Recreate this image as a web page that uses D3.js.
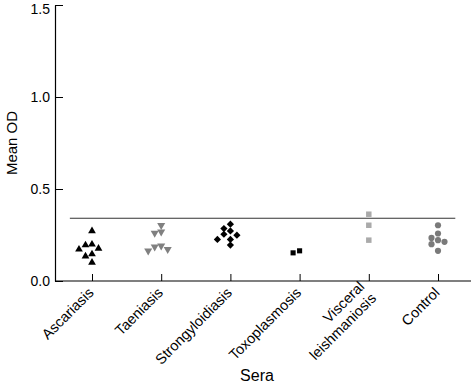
<!DOCTYPE html>
<html>
<head>
<meta charset="utf-8">
<script src="https://cdn.jsdelivr.net/npm/d3@7"></script>
<style>
  body { margin: 0; background: #fff; }
  svg text { font-family: "Liberation Sans", Arial, sans-serif; fill: #000; }
</style>
</head>
<body>
<div id="wrapper"></div>
<script>
// categories and their OD values
const categories = ["Ascariasis", "Taeniasis", "Strongyloidiasis", "Toxoplasmosis", "Visceral leishmaniosis", "Control"];
const ascariasis = [0.272, 0.199, 0.195, 0.177, 0.172, 0.146, 0.135, 0.101];
const taeniasis = [0.303, 0.267, 0.26, 0.191, 0.186, 0.172, 0.164];
const strongyloidiasis = [0.309, 0.285, 0.272, 0.254, 0.249, 0.226, 0.226, 0.195];
const toxoplasmosis = [0.164, 0.153];
const visceral = [0.363, 0.303, 0.222];
const control = [0.303, 0.258, 0.234, 0.222, 0.213, 0.2, 0.164];
const cutoff = 0.341;
const yTicks = [0, 0.5, 1.0, 1.5];

const series = [ascariasis, taeniasis, strongyloidiasis, toxoplasmosis, visceral, control];
const symbols = [
  {type: d3.symbolTriangle, color: "#000", size: 26, rot: 0},
  {type: d3.symbolTriangle, color: "#808080", size: 28, rot: 180},
  {type: d3.symbolSquare, color: "#000", size: 26, rot: 45},
  {type: d3.symbolSquare, color: "#000", size: 26, rot: 0},
  {type: d3.symbolSquare, color: "#aaaaaa", size: 30, rot: 0},
  {type: d3.symbolCircle, color: "#7a7a7a", size: 30, rot: 0}
];

const margin = {top: 5, right: 0, bottom: 105, left: 55},
  width = 471 - margin.left - margin.right,
  height = 281 - margin.top;

const svg = d3.select("#wrapper")
  .append("svg")
  .attr("width", 471)
  .attr("height", 386);

const bounds = svg.append("g")
  .attr("transform", "translate(" + margin.left + "," + margin.top + ")");

const xScale = d3.scalePoint()
  .domain(categories)
  .range([37, 383]);

const yScale = d3.scaleLinear()
  .domain([0, 1.5])
  .range([height, 0]);

// y axis, ticks point inward
const yAxis = d3.axisLeft(yScale)
  .tickValues(yTicks)
  .tickSizeInner(-8)
  .tickSizeOuter(0)
  .tickPadding(6)
  .tickFormat(d3.format(".1f"));

const yG = bounds.append("g").call(yAxis);
yG.select(".domain").attr("stroke", "#000").attr("stroke-width", 1.2);
yG.selectAll(".tick line").attr("stroke", "#000");
yG.selectAll(".tick text").style("font-size", "14px").attr("x", -5)
  .attr("dy", d => d === 1.5 ? "0.62em" : "0.32em");   // keep top label inside the page

// x axis
const xAxis = d3.axisBottom(xScale)
  .tickSizeInner(-7)
  .tickSizeOuter(0)
  .tickFormat("");

const xG = bounds.append("g")
  .attr("transform", "translate(0," + height + ")")
  .call(xAxis);
xG.select(".domain").attr("d", "M0,0H" + width).attr("stroke", "#000").attr("stroke-width", 1.2);
xG.selectAll(".tick line").attr("stroke", "#000");

// rotated category labels
categories.forEach(function(c) {
  const words = c.split(" ");
  const t = bounds.append("text")
    .attr("transform", "translate(" + (xScale(c) - 1) + "," + (height + 9) + ") rotate(-45)")
    .attr("text-anchor", "end")
    .style("font-size", "14.5px");
  const first = words.length > 1 ? -0.25 : 0.35;
  words.forEach(function(w, i) {
    t.append("tspan")
      .attr("x", 0)
      .attr("dy", (i === 0 ? first : 1.15) + "em")
      .text(w);
  });
});

// cut-off line
const step = xScale.step();
bounds.append("line")
  .attr("x1", xScale(categories[0]) - 0.32 * step)
  .attr("x2", xScale(categories[categories.length - 1]) + 0.25 * step)
  .attr("y1", yScale(cutoff))
  .attr("y2", yScale(cutoff))
  .attr("stroke", "#333")
  .attr("stroke-width", 1.2);

// simple beeswarm offsets so overlapping points spread sideways
function swarm(vals, gap, h) {
  const placed = [];
  const order = vals.map((v, i) => i).sort((a, b) => vals[b] - vals[a]);
  const out = new Array(vals.length);
  order.forEach(function(i) {
    const y = yScale(vals[i]);
    const cands = [0, -1, 1, -2, 2, -3, 3];
    for (const k of cands) {
      const x = k * gap;
      const hit = placed.some(p => Math.abs(p.x - x) < gap * 0.9 && Math.abs(p.y - y) < h);
      if (!hit) { placed.push({x: x, y: y}); out[i] = x; break; }
    }
  });
  return out;
}

series.forEach(function(vals, si) {
  const s = symbols[si];
  const offs = swarm(vals, 6.5, 5.5);
  const cx = xScale(categories[si]);
  bounds.selectAll(".pt" + si)
    .data(vals)
    .enter()
    .append("path")
    .attr("class", "pt" + si)
    .attr("d", d3.symbol().type(s.type).size(s.size))
    .attr("transform", (d, i) => "translate(" + (cx + offs[i]) + "," + yScale(d) + ") rotate(" + s.rot + ")")
    .attr("fill", s.color);
});

// axis titles
svg.append("text")
  .attr("transform", "translate(17," + (margin.top + height / 2) + ") rotate(-90)")
  .attr("text-anchor", "middle")
  .style("font-size", "15px")
  .text("Mean OD");

svg.append("text")
  .attr("x", 257)
  .attr("y", 381)
  .attr("text-anchor", "middle")
  .style("font-size", "16px")
  .text("Sera");
</script>
</body>
</html>
